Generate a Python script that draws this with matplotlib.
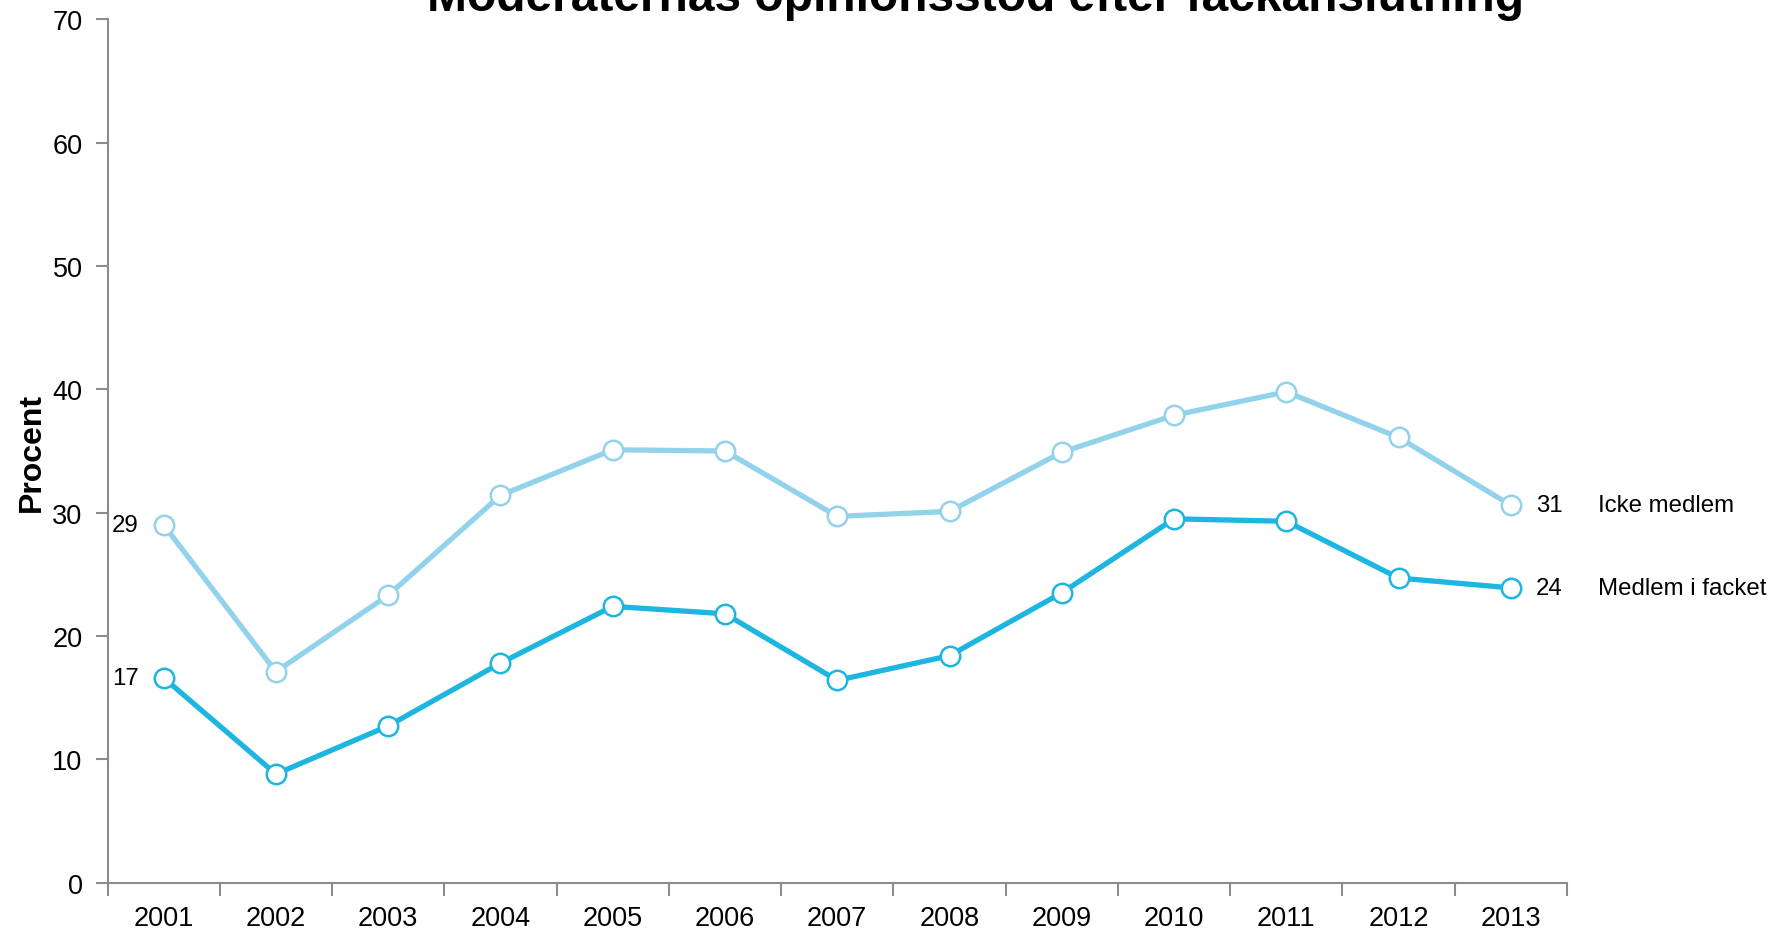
import matplotlib.pyplot as plt

plt.rcParams['font.family'] = ['Liberation Sans', 'DejaVu Sans']

# Data
years = [2001, 2002, 2003, 2004, 2005, 2006, 2007, 2008, 2009, 2010, 2011, 2012, 2013]
icke_medlem = [29.0, 17.1, 23.3, 31.4, 35.1, 35.0, 29.7, 30.1, 34.9, 37.9, 39.8, 36.1, 30.6]
medlem = [16.6, 8.8, 12.7, 17.8, 22.4, 21.8, 16.4, 18.4, 23.5, 29.5, 29.3, 24.7, 23.9]

light = '#92d2eb'
dark = '#1db6e0'
axis_gray = '#8c8c8c'

fig = plt.figure(figsize=(17.74, 9.29), dpi=100)
ax = fig.add_axes([0.0606, 0.0489, 0.8227, 0.9291])

ax.plot(years, icke_medlem, color=light, lw=3.8, marker='o', ms=14,
        mfc='white', mec=light, mew=1.8, zorder=3)
ax.plot(years, medlem, color=dark, lw=3.8, marker='o', ms=14,
        mfc='white', mec=dark, mew=1.8, zorder=3)

ax.set_xlim(years[0] - 0.5, years[-1] + 0.5)
ax.set_ylim(0, 70)
ax.set_yticks(range(0, 71, 10))
ax.set_xticks(years)
ax.set_xticks([y - 0.5 for y in years] + [years[-1] + 0.5], minor=True)
ax.tick_params(axis='x', which='major', length=0, pad=16, labelsize=19.5)
ax.tick_params(axis='x', which='minor', length=9, width=1.5, color=axis_gray, direction='out')
ax.tick_params(axis='y', length=9, width=1.5, color=axis_gray, pad=9, labelsize=19.5)

for s in ['top', 'right']:
    ax.spines[s].set_visible(False)
for s in ['left', 'bottom']:
    ax.spines[s].set_color(axis_gray)
    ax.spines[s].set_linewidth(1.5)

ax.set_ylabel('Procent', fontsize=23, fontweight='bold', labelpad=4)

# End labels
lab = dict(textcoords='offset pixels', va='center', fontsize=17.3, annotation_clip=False)
ax.annotate(f'{round(icke_medlem[0])}', (years[0], icke_medlem[0]), xytext=(-25, 0), ha='right', **lab)
ax.annotate(f'{round(medlem[0])}', (years[0], medlem[0]), xytext=(-25, 0), ha='right', **lab)
ax.annotate(f'{round(icke_medlem[-1])}', (years[-1], icke_medlem[-1]), xytext=(25, 0), ha='left', **lab)
ax.annotate(f'{round(medlem[-1])}', (years[-1], medlem[-1]), xytext=(25, 0), ha='left', **lab)
ax.annotate('Icke medlem', (years[-1], icke_medlem[-1]), xytext=(87, 0), ha='left', **lab)
ax.annotate('Medlem i facket', (years[-1], medlem[-1]), xytext=(87, 0), ha='left', **lab)

fig.text(0.5497, 0.988, 'Moderaternas opinionsstöd efter fackanslutning',
         ha='center', va='baseline', fontsize=34.5, fontweight='bold')

fig.savefig('out.png', dpi=100)
